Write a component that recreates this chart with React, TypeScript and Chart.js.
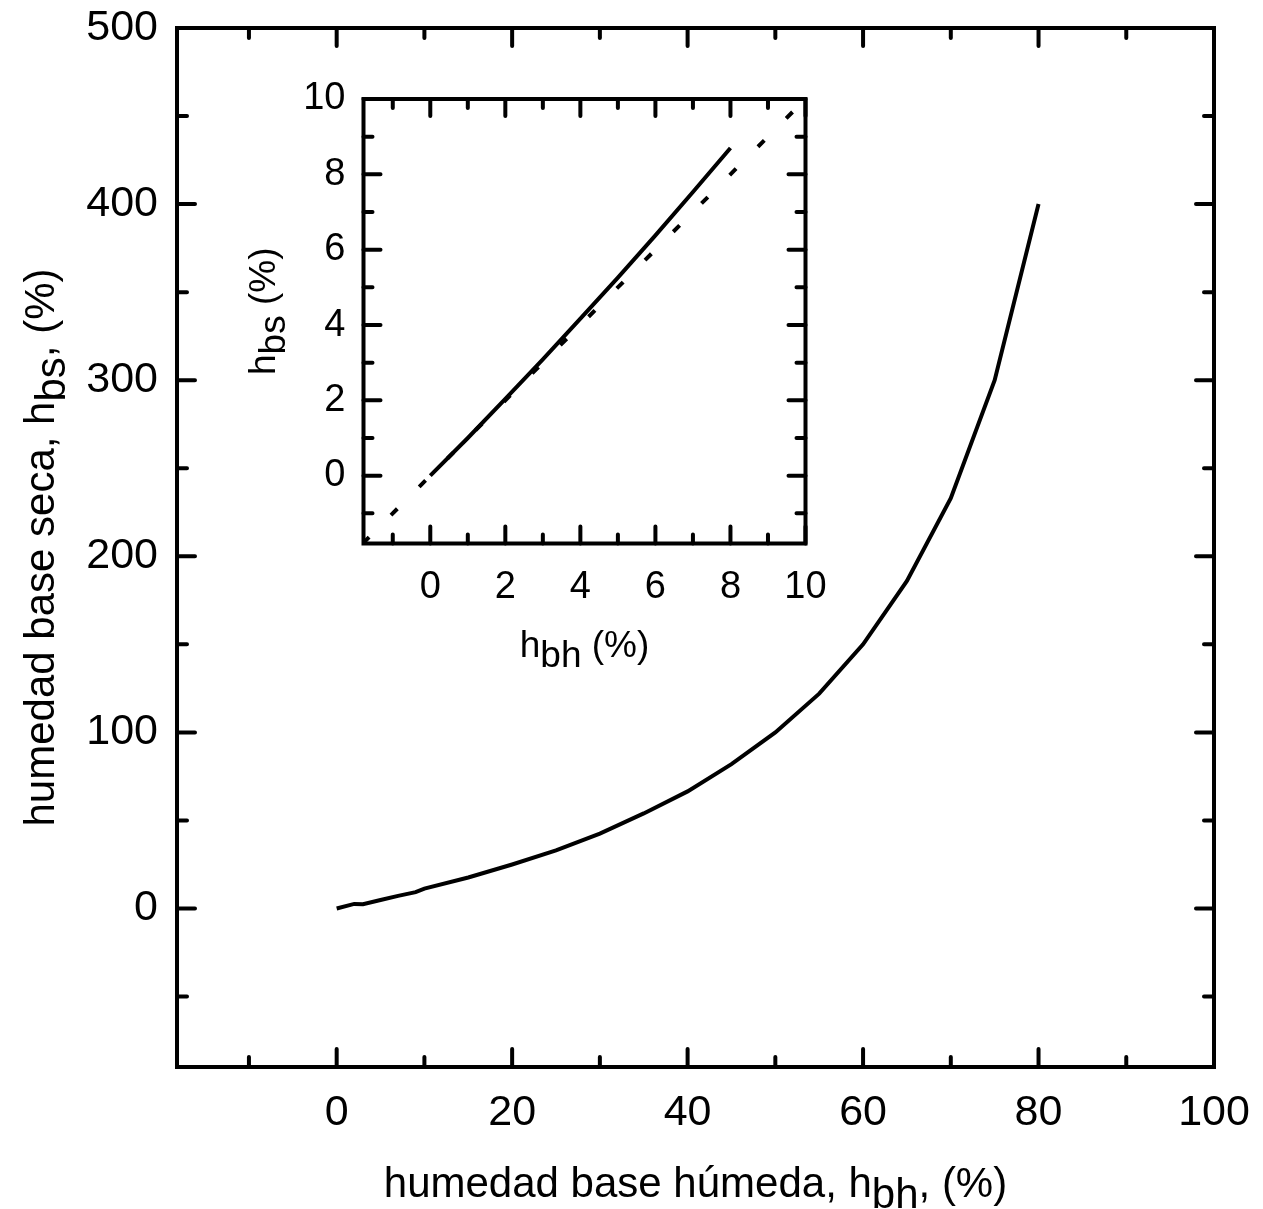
import React, { useEffect, useRef } from "react";
import { Chart, registerables } from "chart.js";

Chart.register(...registerables);

// ---------- data ----------
const mainX = [0, 2, 3, 5, 7, 9, 10, 15, 20, 25, 30, 35, 40, 45, 50, 55, 60, 65, 70, 75, 80];
const mainY = [0, 2.6, 2.4, 4.8, 7.2, 9.3, 11.3, 17.6, 25, 33, 42.5, 54, 66.5, 82, 100, 122, 150, 186, 233, 300, 400];

const insetSolidX = [0, 1, 2, 3, 4, 5, 6, 7, 8];
const insetSolidY = [0, 1.0, 2.04, 3.09, 4.17, 5.26, 6.38, 7.53, 8.7];
const insetDashX = [-1.8, 10];
const insetDashY = [-1.8, 10];

const mainXTicks = [0, 20, 40, 60, 80, 100];
const mainXMinor = [-10, 10, 30, 50, 70, 90];
const mainYTicks = [0, 100, 200, 300, 400, 500];
const mainYMinor = [-50, 50, 150, 250, 350, 450];

const insetTicks = [0, 2, 4, 6, 8, 10];
const insetMinor = [-1, 1, 3, 5, 7, 9];

const mainXTitle = [{ t: "humedad base húmeda, h" }, { t: "bh", sub: true }, { t: ", (%)" }];
const mainYTitle = [{ t: "humedad base seca, h" }, { t: "bs", sub: true }, { t: ", (%)" }];
const insetXTitle = [{ t: "h" }, { t: "bh", sub: true }, { t: " (%)" }];
const insetYTitle = [{ t: "h" }, { t: "bs", sub: true }, { t: " (%)" }];

const FONT = "'Liberation Sans', Arial, Helvetica, sans-serif";

type Seg = { t: string; sub?: boolean };

function drawRich(ctx: CanvasRenderingContext2D, segs: Seg[], x: number, y: number, size: number, subShift: number, rotate: boolean) {
  ctx.save();
  ctx.font = `${size}px ${FONT}`;
  ctx.fillStyle = "#000";
  ctx.textBaseline = "alphabetic";
  ctx.textAlign = "left";
  const widths = segs.map((s) => ctx.measureText(s.t).width);
  const total = widths.reduce((a, b) => a + b, 0);
  ctx.translate(x, y);
  if (rotate) ctx.rotate(-Math.PI / 2);
  let cx = -total / 2;
  segs.forEach((s, i) => {
    ctx.fillText(s.t, cx, s.sub ? subShift : 0);
    cx += widths[i];
  });
  ctx.restore();
}

function framePlugin(cfg: any) {
  return {
    id: "frame_" + cfg.name,
    afterDraw(chart: any) {
      const { ctx, chartArea: a, scales } = chart;
      const xs = scales.x;
      const ys = scales.y;
      ctx.save();
      ctx.strokeStyle = "#000";
      ctx.lineWidth = cfg.frameWidth;
      ctx.lineJoin = "miter";
      ctx.strokeRect(a.left, a.top, a.right - a.left, a.bottom - a.top);
      ctx.lineWidth = cfg.tickWidth;
      ctx.lineCap = "round";
      const drawX = (vals: number[], len: number) => {
        vals.forEach((v) => {
          const p = xs.getPixelForValue(v);
          ctx.beginPath();
          ctx.moveTo(p, a.bottom);
          ctx.lineTo(p, a.bottom - len);
          ctx.moveTo(p, a.top);
          ctx.lineTo(p, a.top + len);
          ctx.stroke();
        });
      };
      const drawY = (vals: number[], len: number) => {
        vals.forEach((v) => {
          const p = ys.getPixelForValue(v);
          ctx.beginPath();
          ctx.moveTo(a.left, p);
          ctx.lineTo(a.left + len, p);
          ctx.moveTo(a.right, p);
          ctx.lineTo(a.right - len, p);
          ctx.stroke();
        });
      };
      drawX(cfg.xMajor, cfg.majorLen);
      drawX(cfg.xMinor, cfg.minorLen);
      drawY(cfg.yMajor, cfg.majorLen);
      drawY(cfg.yMinor, cfg.minorLen);
      ctx.restore();
      const cxm = (a.left + a.right) / 2;
      const cym = (a.top + a.bottom) / 2;
      drawRich(ctx, cfg.xTitle, cxm + cfg.xTitleDx, cfg.xTitleY, cfg.titleSize, cfg.subShift, false);
      drawRich(ctx, cfg.yTitle, cfg.yTitleX, cym + cfg.yTitleDy, cfg.titleSize, cfg.subShift, true);
    },
  };
}

function axisOpts(min: number, max: number, ticks: number[], size: number, padding: number, fit: (s: any) => void) {
  return {
    type: "linear" as const,
    min,
    max,
    grid: { display: false, drawTicks: false },
    border: { display: false },
    ticks: {
      font: { family: FONT, size },
      color: "#000",
      padding,
      autoSkip: false,
      maxRotation: 0,
      minRotation: 0,
    },
    afterBuildTicks: (s: any) => {
      s.ticks = ticks.map((v) => ({ value: v }));
    },
    afterFit: (s: any) => {
      fit(s);
      s.paddingTop = 0;
      s.paddingBottom = 0;
      s.paddingLeft = 0;
      s.paddingRight = 0;
    },
  };
}

export default function App() {
  const mainRef = useRef<HTMLCanvasElement>(null);
  const insetRef = useRef<HTMLCanvasElement>(null);

  useEffect(() => {
    const main = new Chart(mainRef.current as HTMLCanvasElement, {
      type: "line",
      data: {
        datasets: [
          {
            data: mainX.map((x, i) => ({ x, y: mainY[i] })),
            borderColor: "#000",
            borderWidth: 4,
            pointRadius: 0,
            tension: 0,
            fill: false,
          },
        ],
      },
      options: {
        responsive: false,
        animation: false,
        devicePixelRatio: 1,
        layout: { padding: { top: 28, right: 49, left: 0, bottom: 0 } },
        plugins: { legend: { display: false }, tooltip: { enabled: false } },
        scales: {
          x: axisOpts(-18.2, 100, mainXTicks, 43, 20, (s: any) => {
            s.height = 142;
          }),
          y: axisOpts(-90, 500, mainYTicks, 43, 19, (s: any) => {
            s.width = 177;
          }),
        },
      },
      plugins: [
        framePlugin({
          name: "main",
          frameWidth: 4,
          tickWidth: 4,
          majorLen: 18,
          minorLen: 10,
          xMajor: mainXTicks,
          xMinor: mainXMinor,
          yMajor: mainYTicks,
          yMinor: mainYMinor,
          xTitle: mainXTitle,
          yTitle: mainYTitle,
          titleSize: 42,
          subShift: 11,
          xTitleDx: 0,
          xTitleY: 1197,
          yTitleX: 54,
          yTitleDy: 0,
        }),
      ],
    } as any);

    const inset = new Chart(insetRef.current as HTMLCanvasElement, {
      type: "line",
      data: {
        datasets: [
          {
            data: insetDashX.map((x, i) => ({ x, y: insetDashY[i] })),
            borderColor: "#000",
            borderWidth: 4,
            borderDash: [9, 31],
            pointRadius: 0,
            tension: 0,
            fill: false,
          },
          {
            data: insetSolidX.map((x, i) => ({ x, y: insetSolidY[i] })),
            borderColor: "#000",
            borderWidth: 4,
            pointRadius: 0,
            tension: 0,
            fill: false,
          },
        ],
      },
      options: {
        responsive: false,
        animation: false,
        devicePixelRatio: 1,
        layout: { padding: { top: 39, right: 34.5, left: 0, bottom: 0 } },
        plugins: { legend: { display: false }, tooltip: { enabled: false } },
        scales: {
          x: axisOpts(-1.78, 10, insetTicks, 38, 21, (s: any) => {
            s.height = 156.5;
          }),
          y: axisOpts(-1.8, 10, insetTicks, 38, 18, (s: any) => {
            s.width = 143.5;
          }),
        },
      },
      plugins: [
        framePlugin({
          name: "inset",
          frameWidth: 4,
          tickWidth: 4,
          majorLen: 17,
          minorLen: 9,
          xMajor: insetTicks,
          xMinor: insetMinor,
          yMajor: insetTicks,
          yMinor: insetMinor,
          xTitle: insetXTitle,
          yTitle: insetYTitle,
          titleSize: 37,
          subShift: 10,
          xTitleDx: 0,
          xTitleY: 597,
          yTitleX: 55,
          yTitleDy: -10,
        }),
      ],
    } as any);

    return () => {
      main.destroy();
      inset.destroy();
    };
  }, []);

  return (
    <div style={{ position: "absolute", left: 0, top: 0, width: 1263, height: 1209, background: "#fff" }}>
      <canvas ref={mainRef} width={1263} height={1209} style={{ position: "absolute", left: 0, top: 0, width: 1263, height: 1209 }} />
      <canvas ref={insetRef} width={620} height={640} style={{ position: "absolute", left: 220, top: 60, width: 620, height: 640 }} />
    </div>
  );
}
